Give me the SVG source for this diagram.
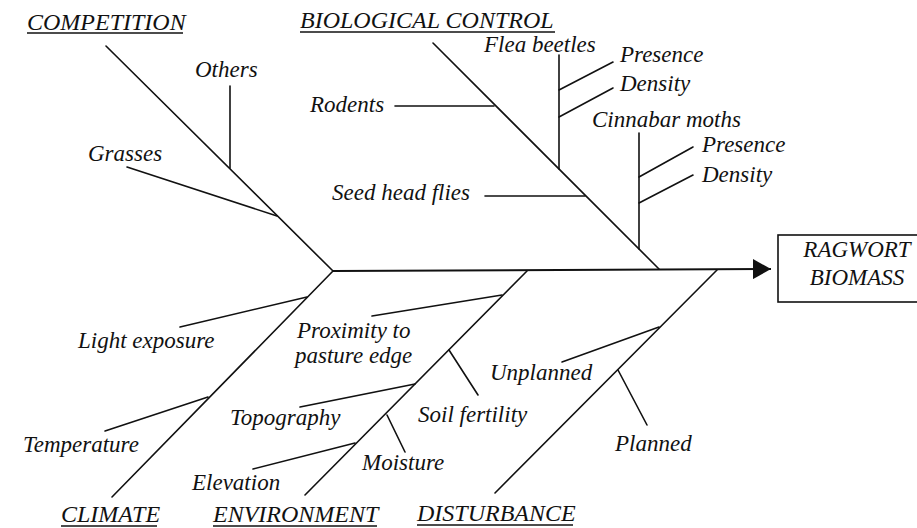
<svg xmlns="http://www.w3.org/2000/svg" width="917" height="528" viewBox="0 0 917 528">
<style>
  .ln { stroke: #111; stroke-width: 1.6; fill: none; stroke-linecap: round; }
  .sp { stroke: #111; stroke-width: 2; fill: none; }
  text { font-family: "Liberation Serif", "Times New Roman", serif; font-style: italic; fill: #111; }
  .lb { font-size: 23px; }
  .hd { font-size: 24px; }
  .ul { stroke: #111; stroke-width: 1.3; }
</style>
<defs>
  <marker id="arr" markerWidth="18" markerHeight="20" refX="18" refY="10" orient="auto" markerUnits="userSpaceOnUse">
    <path d="M0,0 L18,10 L0,20 Z" fill="#111"/>
  </marker>
</defs>
<rect width="917" height="528" fill="#fff"/>

<g id="connectors">
  <line class="sp" x1="333" y1="271" x2="771" y2="269" marker-end="url(#arr)"/>
  <!-- competition -->
  <line class="ln" x1="106" y1="46" x2="333" y2="271"/>
  <line class="ln" x1="230" y1="86" x2="230" y2="168"/>
  <line class="ln" x1="127" y1="167" x2="277" y2="216"/>
  <!-- biological control -->
  <line class="ln" x1="433" y1="43" x2="659" y2="269"/>
  <line class="ln" x1="395" y1="106" x2="494" y2="106"/>
  <line class="ln" x1="485" y1="196" x2="585" y2="196"/>
  <line class="ln" x1="559" y1="55" x2="559" y2="169"/>
  <line class="ln" x1="559" y1="90" x2="613" y2="62"/>
  <line class="ln" x1="559" y1="117" x2="613" y2="88"/>
  <line class="ln" x1="639" y1="133" x2="639" y2="249"/>
  <line class="ln" x1="639" y1="177" x2="693" y2="147"/>
  <line class="ln" x1="639" y1="203" x2="693" y2="175"/>
  <!-- climate -->
  <line class="ln" x1="112" y1="497" x2="333" y2="271"/>
  <line class="ln" x1="180" y1="327" x2="307" y2="297"/>
  <line class="ln" x1="105" y1="431" x2="208" y2="397"/>
  <!-- environment -->
  <line class="ln" x1="305" y1="495" x2="527" y2="271"/>
  <line class="ln" x1="372" y1="316" x2="502" y2="295"/>
  <line class="ln" x1="449" y1="350" x2="478" y2="395"/>
  <line class="ln" x1="300" y1="407" x2="415" y2="384"/>
  <line class="ln" x1="387" y1="415" x2="405" y2="452"/>
  <line class="ln" x1="253" y1="469" x2="355" y2="443"/>
  <!-- disturbance -->
  <line class="ln" x1="495" y1="493" x2="717" y2="270"/>
  <line class="ln" x1="562" y1="362" x2="659" y2="327"/>
  <line class="ln" x1="618" y1="370" x2="647" y2="425"/>
</g>

<g id="competition">
  <text class="hd" x="27" y="30">COMPETITION</text>
  <line class="ul" x1="27" y1="33" x2="183" y2="33"/>
  <text class="lb" x="195" y="77">Others</text>
  <text class="lb" x="88" y="161">Grasses</text>
</g>

<g id="biological-control">
  <text class="hd" x="300" y="28">BIOLOGICAL CONTROL</text>
  <line class="ul" x1="300" y1="32" x2="555" y2="32"/>
  <text class="lb" x="484" y="52">Flea beetles</text>
  <text class="lb" x="620" y="62">Presence</text>
  <text class="lb" x="620" y="91">Density</text>
  <text class="lb" x="310" y="112">Rodents</text>
  <text class="lb" x="332" y="200">Seed head flies</text>
  <text class="lb" x="592" y="127">Cinnabar moths</text>
  <text class="lb" x="702" y="152">Presence</text>
  <text class="lb" x="702" y="182">Density</text>
</g>

<g id="climate">
  <text class="lb" x="78" y="348">Light exposure</text>
  <text class="lb" x="23" y="452">Temperature</text>
  <text class="hd" x="61" y="522">CLIMATE</text>
  <line class="ul" x1="61" y1="526" x2="157" y2="526"/>
</g>

<g id="environment">
  <text class="lb" x="297" y="338">Proximity to</text>
  <text class="lb" x="295" y="363">pasture edge</text>
  <text class="lb" x="418" y="422">Soil fertility</text>
  <text class="lb" x="230" y="425">Topography</text>
  <text class="lb" x="362" y="470">Moisture</text>
  <text class="lb" x="192" y="490">Elevation</text>
  <text class="hd" x="213" y="522">ENVIRONMENT</text>
  <line class="ul" x1="213" y1="526" x2="377" y2="526"/>
</g>

<g id="disturbance">
  <text class="lb" x="490" y="380">Unplanned</text>
  <text class="lb" x="615" y="451">Planned</text>
  <text class="hd" x="417" y="521">DISTURBANCE</text>
  <line class="ul" x1="417" y1="525" x2="573" y2="525"/>
</g>

<g id="ragwort-biomass">
  <rect x="778" y="235" width="145" height="67" fill="none" stroke="#111" stroke-width="1.6"/>
  <text class="lb" x="857" y="257" text-anchor="middle">RAGWORT</text>
  <text class="lb" x="857" y="285" text-anchor="middle">BIOMASS</text>
</g>
</svg>
